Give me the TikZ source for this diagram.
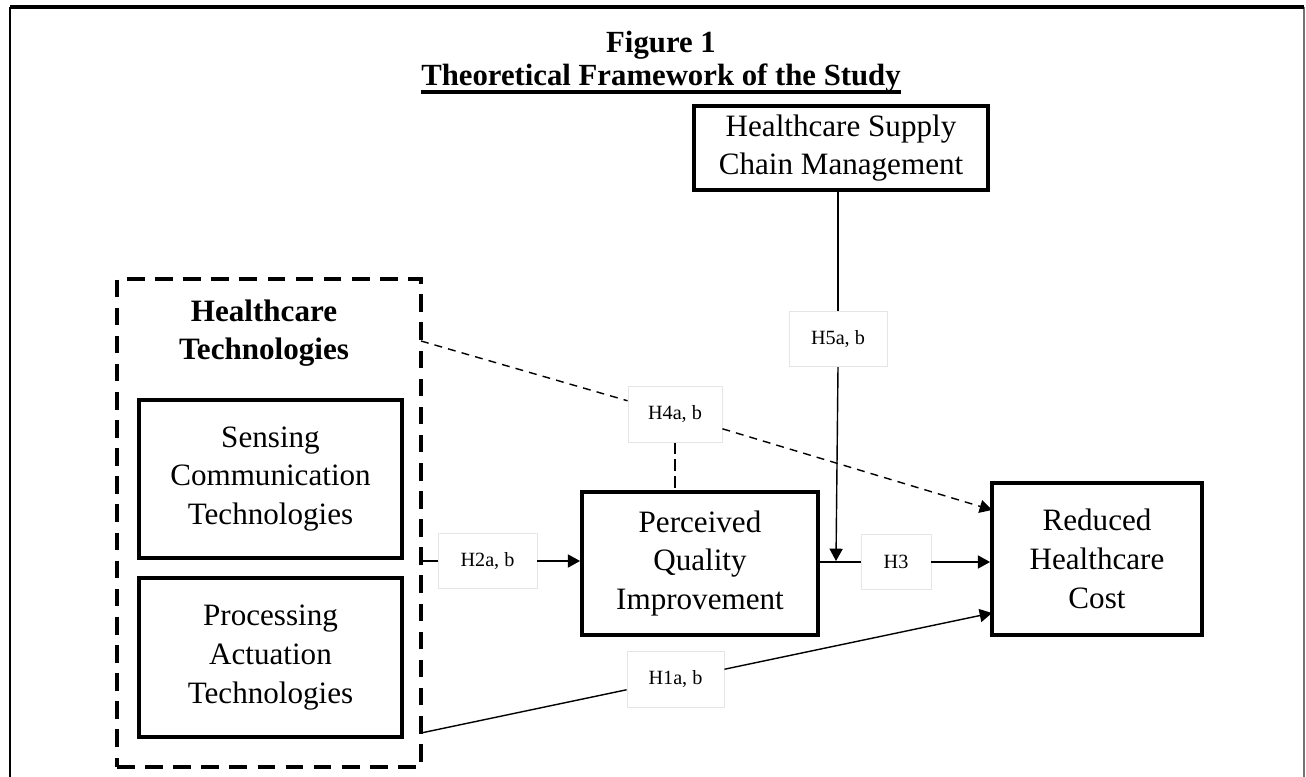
\documentclass[tikz,border=0pt]{standalone}
\usepackage{fontspec}
\setmainfont{Liberation Serif}
\usetikzlibrary{arrows.meta}

\begin{document}
\begin{tikzpicture}[
    mainbox/.style  = {draw, line width=2.2pt, align=center, inner sep=0pt,
                       font=\fontsize{17.7}{22}\selectfont},
    grpbox/.style   = {draw, line width=2.2pt, dash pattern=on 10pt off 6pt, inner sep=0pt},
    hyp/.style      = {draw=black!10, fill=white, line width=0.5pt, inner sep=0pt,
                       minimum height=1.11cm, font=\fontsize{11.5}{13}\selectfont},
    conn/.style     = {line width=0.8pt},
    arr/.style      = {conn, -{Triangle[length=7pt, width=7.5pt]}},
    dasharr/.style  = {arr, dash pattern=on 4.5pt off 3.5pt},
    headfont/.style = {font=\bfseries\fontsize{17.5}{21}\selectfont},
  ]
            \useasboundingbox (0,0) rectangle (26.12,15.52);

            % frame and title
            \draw[line width=0.9pt]           ( 0.20,-0.30) -- ( 0.20,15.38);
            \draw[line width=0.9pt, black!55] (26.08,-0.30) -- (26.08,15.38);
            \draw[line width=1.8pt]           ( 0.20,15.38) -- (26.08,15.38);
            \node[headfont, anchor=base, inner sep=0pt] (fig) at (13.22,14.46) {Figure 1};
            \node[headfont, anchor=base, inner sep=0pt] (ttl) at (13.22,13.80) {Theoretical Framework of the Study};
            \draw[line width=2pt] ([yshift=-0.12cm]ttl.base west) -- ([yshift=-0.12cm]ttl.base east);

            % technologies group
            \node[grpbox,  minimum width=6.08cm, minimum height=9.76cm] (grp)  at ( 5.38, 5.06) {};
            \node[headfont, align=center, font=\bfseries\fontsize{17.7}{21.3}\selectfont]
                                                                        (tech) at ( 5.28, 8.86) {Healthcare\\Technologies};
            \node[mainbox, minimum width=5.26cm, minimum height=3.16cm] (sct)  at ( 5.41, 5.94) {Sensing\\Communication\\Technologies};
            \node[mainbox, minimum width=5.26cm, minimum height=3.18cm] (pat)  at ( 5.41, 2.37) {Processing\\Actuation\\Technologies};

            % constructs
            \node[mainbox, minimum width=5.88cm, minimum height=1.68cm] (hscm) at (16.82,12.56) {Healthcare Supply\\Chain Management};
            \node[mainbox, minimum width=4.72cm, minimum height=2.86cm] (pqi)  at (14.00, 4.25) {Perceived\\Quality\\Improvement};
            \node[mainbox, minimum width=4.20cm, minimum height=3.04cm] (rhc)  at (21.94, 4.34) {Reduced\\Healthcare\\Cost};

            % hypothesis labels
            \node[hyp, minimum width=1.96cm] (h5) at (16.76, 8.74) {H5a, b};
            \node[hyp, minimum width=1.88cm] (h4) at (13.50, 7.23) {H4a, b};
            \node[hyp, minimum width=1.98cm] (h2) at ( 9.75, 4.30) {H2a, b};
            \node[hyp, minimum width=1.40cm] (h3) at (17.92, 4.28) {H3};
            \node[hyp, minimum width=1.94cm] (h1) at (13.51, 1.93) {H1a, b};

            \coordinate (mod)     at (16.72, 4.30);
            \coordinate (techout) at ( 8.42, 8.70);
            \coordinate (patout)  at ( 8.42, 0.86);
            \coordinate (rhcup)   at (19.84, 5.32);
            \coordinate (rhclow)  at (19.84, 3.26);

            % paths
            \draw[conn]    (h5.north |- hscm.south) -- (h5.north);
            \draw[arr]     (h5.south) -- (mod);
            \draw[conn]    (pqi.east |- h3.west) -- (h3.west);
            \draw[arr]     (h3.east) -- (h3.east -| rhc.west);
            \draw[conn]    (grp.east |- h2.west) -- (h2.west);
            \draw[arr]     (h2.east) -- (h2.east -| pqi.west);
            \draw[dasharr] (techout) -- (h4) -- (rhcup);
            \draw[conn, line width=1.6pt, dash pattern=on 6.5pt off 3pt] (h4.south) -- (h4.south |- pqi.north);
            \draw[arr]     (patout) -- (h1) -- (rhclow);
        \end{tikzpicture}
\end{document}
